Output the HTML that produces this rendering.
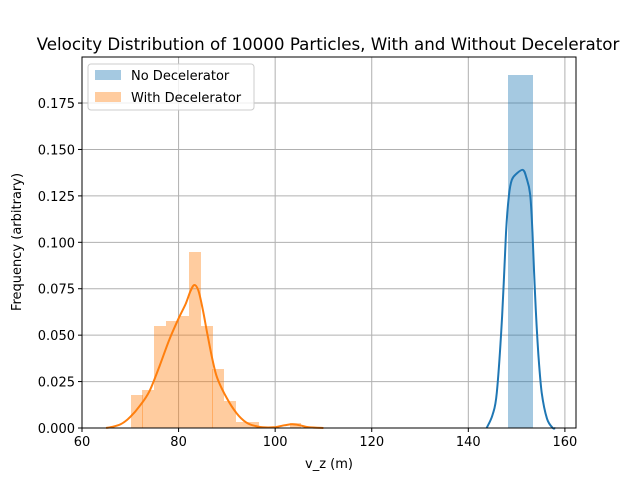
<!DOCTYPE html>
<html><head><meta charset="utf-8"><style>
body{margin:0;background:#fff;}
svg text{font-family:"DejaVu Sans","Liberation Sans",sans-serif;fill:#000;}
</style></head><body>
<svg id="chart" width="640" height="480" xmlns="http://www.w3.org/2000/svg" style="position:absolute;left:0;top:0"></svg>
<script>
const xTicks=[60,80,100,120,140,160];
const yTicks=[0,0.025,0.05,0.075,0.1,0.125,0.15,0.175];
const yTickLabels=["0.000","0.025","0.050","0.075","0.100","0.125","0.150","0.175"];
const noDecelBins=[148.2];
const noDecelValues=[0.190];
const noDecelBinWidth=5.2;
const withDecelBins=[70.1,72.5,74.9,77.4,79.8,82.2,84.6,87.0,89.4,91.9,94.3,103.0];
const withDecelValues=[0.0178,0.0205,0.055,0.0576,0.0603,0.0948,0.055,0.0318,0.0145,0.0032,0.0032,0.0027];
const withDecelBinWidth=2.43;
const kdeOrangeX=[65,66,68,70,72,74,76,78,80,81.5,82.5,83.3,84.1,85,86,87,88,90,92,94,96,98,100,102,103.5,105,107,110];
const kdeOrangeY=[0,0.0005,0.002,0.006,0.012,0.020,0.033,0.047,0.059,0.067,0.074,0.077,0.074,0.064,0.050,0.037,0.027,0.016,0.008,0.003,0.001,0.0003,0.0005,0.0015,0.002,0.0015,0.0004,0];
const kdeBlueX=[143.8,145,145.9,147,147.8,148.4,149,150,151.3,152,152.8,153.3,153.8,154.5,155.2,156.3,157.5,158];
const kdeBlueY=[0,0.007,0.019,0.06,0.105,0.125,0.1336,0.137,0.139,0.135,0.126,0.105,0.0727,0.04,0.019,0.005,0,0];

const L=82,R=576,T=57,B=428;
const xmin=60,xmax=162.3,ymin=0,ymax=0.1998;
const sx=v=>L+(v-xmin)/(xmax-xmin)*(R-L);
const sy=v=>B-(v-ymin)/(ymax-ymin)*(B-T);
const svg=document.getElementById('chart');
const NS='http://www.w3.org/2000/svg';
function mk(tag,attrs,parent){const e=document.createElementNS(NS,tag);for(const k in attrs)e.setAttribute(k,attrs[k]);(parent||svg).appendChild(e);return e;}

xTicks.forEach(t=>{const g=mk('line',{x1:sx(t),x2:sx(t),y1:T,y2:B,stroke:'#b0b0b0','stroke-width':1});

});
yTicks.forEach(t=>{const g=mk('line',{x1:L,x2:R,y1:sy(t),y2:sy(t),stroke:'#b0b0b0','stroke-width':1});

});

function bars(bins,vals,w,color,name){
  bins.forEach((b,i)=>{
    const x0=Math.round(sx(b)),x1=Math.round(sx(b+w)),y0=Math.round(sy(vals[i])),y1=Math.round(sy(0));
    const r=mk('rect',{x:x0,y:y0,width:x1-x0,height:y1-y0,fill:color,'fill-opacity':0.4,'shape-rendering':'crispEdges'});
    
    
  });
}
bars(noDecelBins,noDecelValues,noDecelBinWidth,'#1f77b4','bar-no-decelerator');
bars(withDecelBins,withDecelValues,withDecelBinWidth,'#ff7f0e','bar-with-decelerator');

function line(xs,ys,color,name){
  const P=xs.map((x,i)=>[sx(x),sy(ys[i])]);
  let d=`M${P[0][0]},${P[0][1]}`;
  for(let i=0;i<P.length-1;i++){
    const p0=P[Math.max(0,i-1)],p1=P[i],p2=P[i+1],p3=P[Math.min(P.length-1,i+2)];
    const c1=[p1[0]+(p2[0]-p0[0])/6,p1[1]+(p2[1]-p0[1])/6];
    const c2=[p2[0]-(p3[0]-p1[0])/6,p2[1]-(p3[1]-p1[1])/6];
    d+=`C${c1[0].toFixed(1)},${c1[1].toFixed(1)} ${c2[0].toFixed(1)},${c2[1].toFixed(1)} ${p2[0].toFixed(1)},${p2[1].toFixed(1)}`;
  }
  const p=mk('path',{d:d,fill:'none',stroke:color,'stroke-width':2,'stroke-linejoin':'round'});
  
  
}
line(kdeOrangeX,kdeOrangeY,'#ff7f0e','kde-with-decelerator');
line(kdeBlueX,kdeBlueY,'#1f77b4','kde-no-decelerator');

const fr=mk('rect',{x:L,y:T,width:R-L,height:B-T,fill:'none',stroke:'#000','stroke-width':1});



xTicks.forEach(t=>{
  mk('line',{x1:sx(t),x2:sx(t),y1:B,y2:B+4,stroke:'#000'});
  const tx=mk('text',{x:sx(t),y:B+18,'text-anchor':'middle','font-size':13});
  tx.textContent=t;
  
  
});
yTicks.forEach((t,i)=>{
  mk('line',{x1:L-4,x2:L,y1:sy(t),y2:sy(t),stroke:'#000'});
  const tx=mk('text',{x:L-7,y:sy(t)+5,'text-anchor':'end','font-size':13});
  tx.textContent=yTickLabels[i];
  
  
});
</script>
<div style="position:absolute;left:0;top:0;width:640px;height:480px;pointer-events:none">
<svg width="640" height="480" xmlns="http://www.w3.org/2000/svg">
<text x="328" y="50" text-anchor="middle" font-size="16.7">Velocity Distribution of 10000 Particles, With and Without Decelerator</text>
<text x="329" y="468" text-anchor="middle" font-size="13">v_z (m)</text>
<text x="21" y="242" text-anchor="middle" font-size="13" transform="rotate(-90 21 242)">Frequency (arbitrary)</text>
<g>
<rect x="88" y="64" width="166" height="46" rx="3" fill="#fff" fill-opacity="0.8" stroke="#ccc"/>
<g>
<rect x="95" y="70" width="26" height="10" fill="#1f77b4" fill-opacity="0.4"/>
<text x="131" y="80" font-size="13">No Decelerator</text></g>
<g>
<rect x="95" y="92" width="26" height="10" fill="#ff7f0e" fill-opacity="0.4"/>
<text x="131" y="102" font-size="13">With Decelerator</text></g>
</g>
</svg></div>
</body></html>
